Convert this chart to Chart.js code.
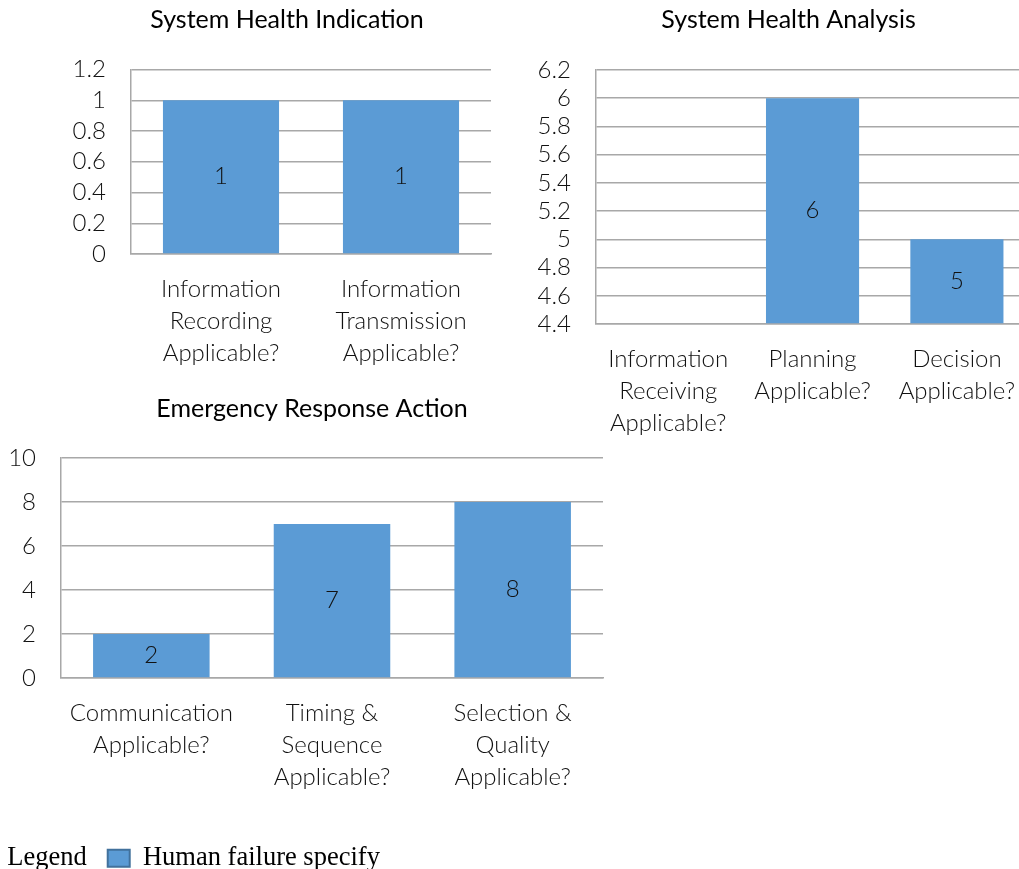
<!DOCTYPE html>
<html>
<head>
<meta charset="utf-8">
<script src="https://cdn.jsdelivr.net/npm/chart.js@4.4.0/dist/chart.umd.min.js"></script>
<style>
  html, body { margin: 0; padding: 0; width: 1019px; height: 869px; overflow: hidden; background: #fff; }
  canvas { position: absolute; }
</style>
</head>
<body>
<canvas id="chart1" width="495" height="380" style="left:0;top:0"></canvas>
<canvas id="chart2" width="535" height="440" style="left:500px;top:0"></canvas>
<canvas id="chart3" width="610" height="420" style="left:0;top:390px"></canvas>
<canvas id="legend" width="600" height="120" style="left:-49px;top:824px"></canvas>
<script>
// data
const seriesName = 'Human failure specify'
const legendTitle = 'Legend'

const title1 = 'System Health Indication'
const categories1 = [['Information', 'Recording', 'Applicable?'], ['Information', 'Transmission', 'Applicable?']]
const values1 = [1, 1]
const yMin1 = 0, yMax1 = 1.2, yStep1 = 0.2

const title2 = 'System Health Analysis'
const categories2 = [['Information', 'Receiving', 'Applicable?'], ['Planning', 'Applicable?'], ['Decision', 'Applicable?']]
const values2 = [null, 6, 5]   // first bar is below the axis minimum, not visible
const yMin2 = 4.4, yMax2 = 6.2, yStep2 = 0.2

const title3 = 'Emergency Response Action'
const categories3 = [['Communication', 'Applicable?'], ['Timing &', 'Sequence', 'Applicable?'], ['Selection &', 'Quality', 'Applicable?']]
const values3 = [2, 7, 8]
const yMin3 = 0, yMax3 = 10, yStep3 = 2

const barColor = '#5b9bd5'
const gridColor = '#a8a8a8'
const textColor = '#111'
const labelFont = { family: 'Lato', weight: '300', size: 24, lineHeight: 1.333 }

// move the title so it sits over the chart area plus an offset (like Excel does)
const titleShift = {
    id: 'titleShift',
    afterLayout(chart, args, opts) {
        const t = chart.titleBlock
        if (!t) return
        const a = chart.chartArea
        const w = t.right - t.left
        const c = (a.left + a.right) / 2 + (opts.offset || 0)
        t.left = c - w / 2
        t.right = c + w / 2
    }
}

// value labels in the middle of each bar
const barValues = {
    id: 'barValues',
    afterDatasetsDraw(chart) {
        const ctx = chart.ctx
        const vals = chart.data.datasets[0].data
        chart.getDatasetMeta(0).data.forEach((bar, i) => {
            if (vals[i] == null) return
            const bottom = Math.min(bar.base, chart.chartArea.bottom)
            ctx.save()
            ctx.font = `${labelFont.weight} ${labelFont.size}px ${labelFont.family}`
            ctx.fillStyle = textColor
            ctx.textAlign = 'center'
            ctx.textBaseline = 'middle'
            ctx.fillText(String(vals[i]), bar.x, (bar.y + bottom) / 2)
            ctx.restore()
        })
    }
}

function makeChart(id, title, labels, values, yMin, yMax, yStep, lay) {
    const ctx = document.querySelector(id).getContext('2d')
    return new Chart(ctx, {
        type: 'bar',
        data: {
            labels: labels,
            datasets: [{
                label: seriesName,
                data: values,
                backgroundColor: barColor,
                base: yMin,
                categoryPercentage: 1,
                barPercentage: 0.645,
            }]
        },
        options: {
            responsive: false,
            animation: false,
            layout: { padding: { left: 0, right: lay.padRight, top: 0, bottom: 0 } },
            scales: {
                x: {
                    grid: { display: false, drawTicks: false },
                    border: { display: true, color: gridColor, width: 1.5 },
                    ticks: { color: textColor, font: labelFont, padding: 19, maxRotation: 0, autoSkip: false },
                    afterFit: s => { s.height = lay.xHeight }
                },
                y: {
                    min: yMin,
                    max: yMax,
                    grid: { color: gridColor, lineWidth: 1.5, drawTicks: false },
                    border: { display: true, color: gridColor, width: 1.5 },
                    ticks: {
                        stepSize: yStep,
                        autoSkip: false,
                        color: textColor,
                        font: labelFont,
                        padding: 25,
                        callback: v => String(Math.round(v * 10) / 10)
                    },
                    afterFit: s => { s.width = lay.yWidth }
                }
            },
            plugins: {
                legend: { display: false },
                tooltip: { enabled: false },
                title: {
                    display: true,
                    text: title,
                    color: '#000',
                    font: { family: 'Lato', weight: 'normal', size: 25, lineHeight: 1.25 },
                    padding: { top: lay.titleTop, bottom: lay.titleBottom }
                },
                titleShift: { offset: lay.titleOffset }
            }
        },
        plugins: [titleShift, barValues]
    })
}

function renderCharts() {
    makeChart('#chart1', title1, categories1, values1, yMin1, yMax1, yStep1,
        { yWidth: 131, xHeight: 126, padRight: 4, titleTop: 4.5, titleBottom: 33.75, titleOffset: -24 })
    makeChart('#chart2', title2, categories2, values2, yMin2, yMax2, yStep2,
        { yWidth: 96, xHeight: 116, padRight: 5, titleTop: 4.5, titleBottom: 34.25, titleOffset: -24 })
    makeChart('#chart3', title3, categories3, values3, yMin3, yMax3, yStep3,
        { yWidth: 61, xHeight: 132, padRight: 7, titleTop: 3.5, titleBottom: 33.25, titleOffset: -20 })

    // the legend line at the bottom
    const lctx = document.querySelector('#legend').getContext('2d')
    new Chart(lctx, {
        type: 'bar',
        data: {
            labels: [],
            datasets: [{ label: seriesName, data: [], backgroundColor: barColor, borderColor: '#41719c', borderWidth: 2 }]
        },
        options: {
            responsive: false,
            animation: false,
            scales: { x: { display: false }, y: { display: false } },
            plugins: {
                tooltip: { enabled: false },
                legend: {
                    display: true,
                    position: 'top',
                    align: 'start',
                    maxHeight: 110,
                    labels: {
                        color: '#000',
                        font: { family: 'Liberation Serif', size: 26.5 },
                        boxWidth: 22,
                        boxHeight: 17,
                        padding: 21,
                        generateLabels: chart => [
                            { text: legendTitle, fillStyle: 'rgba(0,0,0,0)', strokeStyle: 'rgba(0,0,0,0)', lineWidth: 0, hidden: false },
                            ...Chart.defaults.plugins.legend.labels.generateLabels(chart)
                        ]
                    }
                }
            }
        }
    })
}

renderCharts()
</script>
</body>
</html>
